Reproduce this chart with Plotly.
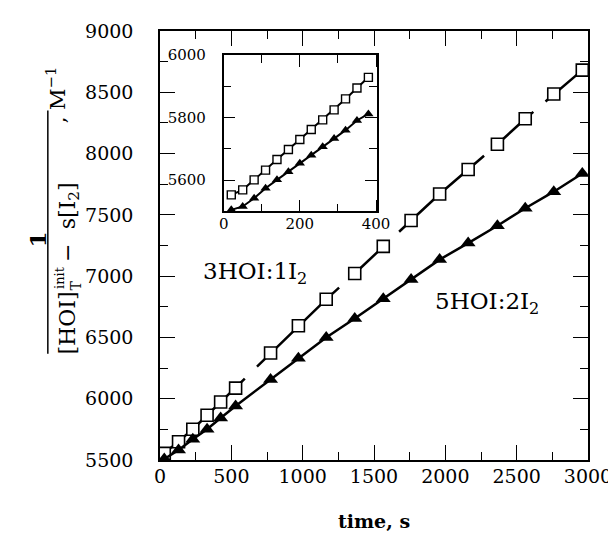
import plotly.graph_objects as go

# ---- data ----
main_t = [30, 130, 230, 330, 425, 530, 775, 970, 1165, 1365, 1565, 1760, 1960, 2160, 2365, 2560, 2760, 2960]
main_3hoi = [5554, 5649, 5751, 5865, 5973, 6086, 6373, 6595, 6811, 7022, 7243, 7454, 7670, 7870, 8076, 8284, 8486, 8681]
main_5hoi = [5508, 5581, 5670, 5751, 5843, 5941, 6157, 6330, 6500, 6654, 6816, 6973, 7135, 7270, 7411, 7554, 7689, 7838]

inset_t = [20, 50, 80, 110, 140, 170, 200, 230, 260, 290, 320, 350, 380]
inset_3hoi = [5553, 5569, 5601, 5632, 5666, 5698, 5730, 5762, 5793, 5825, 5860, 5895, 5929]
inset_5hoi = [5505, 5516, 5542, 5574, 5601, 5627, 5654, 5680, 5707, 5733, 5760, 5791, 5812]

main_xticks = [0, 500, 1000, 1500, 2000, 2500, 3000]
main_yticks = [5500, 6000, 6500, 7000, 7500, 8000, 8500, 9000]
inset_xticks = [0, 200, 400]
inset_yticks = [5600, 5800, 6000]

W, H = 616, 537
L, R, T, B = 152, 587, 20, 452
FONT = "DejaVu Serif"

def px(x):
    return (x - L) / (R - L)

def py(y):
    return (B - y) / (B - T)

fig = go.Figure()

fig.add_trace(go.Scatter(
    x=main_t, y=main_3hoi, mode="lines+markers", xaxis="x", yaxis="y",
    line=dict(color="black", width=2.5,
              dash="110px,17px,114px,14px,51px,17px,114px,15px,51px,16px,300px"),
    marker=dict(symbol="square", size=12, color="white", line=dict(color="black", width=1.6)),
    showlegend=False))
fig.add_trace(go.Scatter(
    x=main_t, y=main_5hoi, mode="lines+markers", xaxis="x", yaxis="y",
    line=dict(color="black", width=2.5),
    marker=dict(symbol="triangle-up", size=13, color="black"),
    showlegend=False))

fig.add_trace(go.Scatter(
    x=inset_t, y=inset_3hoi, mode="lines+markers", xaxis="x2", yaxis="y2",
    line=dict(color="black", width=2),
    marker=dict(symbol="square", size=8, color="white", line=dict(color="black", width=1.4)),
    showlegend=False))
fig.add_trace(go.Scatter(
    x=inset_t, y=inset_5hoi, mode="lines+markers", xaxis="x2", yaxis="y2",
    line=dict(color="black", width=2),
    marker=dict(symbol="triangle-up", size=9, color="black"),
    showlegend=False))

axis_common = dict(showgrid=False, zeroline=False, showline=True, linecolor="black",
                   linewidth=1.5, mirror="ticks", ticks="inside", tickcolor="black",
                   tickwidth=1.3)

fig.update_layout(
    width=W, height=H,
    margin=dict(l=L, r=W - R, t=T, b=H - B),
    paper_bgcolor="white", plot_bgcolor="white",
    font=dict(family=FONT, color="black", size=19),
    xaxis=dict(range=[0, 3000], tickvals=main_xticks, ticklen=15,
               minor=dict(dtick=250, ticklen=8, ticks="inside", tickcolor="black", tickwidth=1.3),
               tickfont=dict(size=19), ticklabelstandoff=-2, **axis_common),
    yaxis=dict(range=[5500, 9000], tickvals=main_yticks, ticklen=15,
               minor=dict(dtick=250, ticklen=8, ticks="inside", tickcolor="black", tickwidth=1.3),
               tickfont=dict(size=19), ticklabelstandoff=21, **axis_common),
    xaxis2=dict(domain=[px(216.7), px(372.7)], anchor="y2", range=[0, 403],
                tickvals=inset_xticks, ticklen=12,
                minor=dict(dtick=100, ticklen=8, ticks="inside", tickcolor="black", tickwidth=1.2),
                tickfont=dict(size=15), ticklabelstandoff=-2, **axis_common),
    yaxis2=dict(domain=[py(201.7), py(44.3)], anchor="x2", range=[5500, 6000],
                tickvals=inset_yticks, ticklen=12,
                minor=dict(dtick=100, ticklen=8, ticks="inside", tickcolor="black", tickwidth=1.2),
                tickfont=dict(size=15), ticklabelstandoff=13, **axis_common),
)

def a(text, x, y, size, angle=0):
    return dict(text=text, x=px(x), y=py(y), xref="paper", yref="paper", textangle=angle,
                showarrow=False, font=dict(size=size), xanchor="center", yanchor="middle")

ann = [
    a("3HOI:1I<sub>2</sub>", 249, 264, 23),
    a("5HOI:2I<sub>2</sub>", 484, 294, 23),
    a("<b>time, s</b>", 370, 513, 19),
    # y-axis label (rotated fraction)
    a("<b>1</b>", 28, 230, 23, -90),
    a("[HOI]", 58, 314, 22, -90),
    a("init", 50, 268, 13, -90),
    a("T", 67, 276, 14, -90),
    a("\u2212", 58, 244, 22, -90),
    a("s[I<sub>2</sub>]", 60, 196, 22, -90),
    a(", M<sup>\u22121</sup>", 46, 84, 21, -90),
]
fig.update_layout(annotations=ann)

fig.add_shape(type="line", xref="paper", yref="paper", x0=px(38), x1=px(38), y0=py(100), y1=py(345),
              line=dict(color="black", width=1.5))

fig.write_html("out.html")
